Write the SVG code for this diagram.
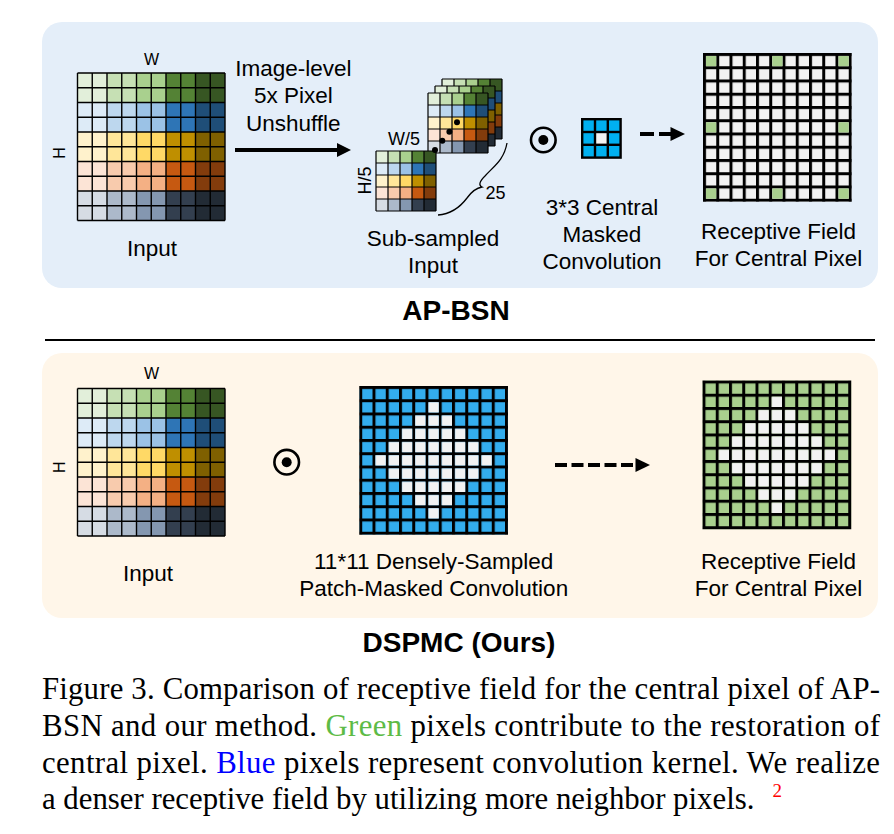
<svg xmlns="http://www.w3.org/2000/svg" xmlns:xlink="http://www.w3.org/1999/xlink" width="894" height="834" viewBox="0 0 894 834">
<style>
.t{font-family:"Liberation Sans",Arial,sans-serif;font-size:22.5px;fill:#000;text-anchor:middle}
.s{font-family:"Liberation Sans",Arial,sans-serif;font-size:18px;fill:#000;text-anchor:middle}
.wh{font-family:"Liberation Sans",Arial,sans-serif;font-size:16px;fill:#000;text-anchor:middle}
.b{font-family:"Liberation Sans",Arial,sans-serif;font-size:28px;font-weight:bold;fill:#000;text-anchor:middle}
.cap{font-family:"Liberation Serif","Times New Roman",serif;font-size:30.8px;fill:#000}
.gl{fill:none;stroke:#000;stroke-width:1.4}
.gls{fill:none;stroke:#000;stroke-width:1.2}
.ar{stroke:#000;stroke-width:4;fill:none}
</style>
<defs>
<pattern id="pGray" patternUnits="userSpaceOnUse" x="0" y="0" width="13.25" height="13.25"><rect x="3" y="3" width="10.25" height="10.25" fill="#F2F2F2"/></pattern>
<pattern id="pGreen" patternUnits="userSpaceOnUse" x="0" y="0" width="13.25" height="13.25"><rect x="3" y="3" width="10.25" height="10.25" fill="#A9D08E"/></pattern>
<pattern id="pBlue" patternUnits="userSpaceOnUse" x="0" y="0" width="13.25" height="13.25"><rect x="3" y="3" width="10.25" height="10.25" fill="#33ADEE"/></pattern>
<g id="inGrid">
<rect x="0" y="0" width="29.5" height="29.5" fill="#E2EFDA"/><rect x="29.5" y="0" width="29.5" height="29.5" fill="#C6E0B4"/><rect x="59" y="0" width="29.5" height="29.5" fill="#A9D08E"/><rect x="88.5" y="0" width="29.5" height="29.5" fill="#548235"/><rect x="118" y="0" width="29.5" height="29.5" fill="#375623"/>
<rect x="0" y="29.5" width="29.5" height="29.5" fill="#DDEBF7"/><rect x="29.5" y="29.5" width="29.5" height="29.5" fill="#BDD7EE"/><rect x="59" y="29.5" width="29.5" height="29.5" fill="#9BC2E6"/><rect x="88.5" y="29.5" width="29.5" height="29.5" fill="#2E75B6"/><rect x="118" y="29.5" width="29.5" height="29.5" fill="#1F4E78"/>
<rect x="0" y="59" width="29.5" height="29.5" fill="#FFF2CC"/><rect x="29.5" y="59" width="29.5" height="29.5" fill="#FFE699"/><rect x="59" y="59" width="29.5" height="29.5" fill="#FFD966"/><rect x="88.5" y="59" width="29.5" height="29.5" fill="#BF8F00"/><rect x="118" y="59" width="29.5" height="29.5" fill="#7F6000"/>
<rect x="0" y="88.5" width="29.5" height="29.5" fill="#FCE4D6"/><rect x="29.5" y="88.5" width="29.5" height="29.5" fill="#F8CBAD"/><rect x="59" y="88.5" width="29.5" height="29.5" fill="#F4B084"/><rect x="88.5" y="88.5" width="29.5" height="29.5" fill="#C65911"/><rect x="118" y="88.5" width="29.5" height="29.5" fill="#833C0C"/>
<rect x="0" y="118" width="29.5" height="29.5" fill="#D6DCE4"/><rect x="29.5" y="118" width="29.5" height="29.5" fill="#ACB9CA"/><rect x="59" y="118" width="29.5" height="29.5" fill="#8497B0"/><rect x="88.5" y="118" width="29.5" height="29.5" fill="#333F4F"/><rect x="118" y="118" width="29.5" height="29.5" fill="#222B35"/>
<path class="gl" d="M0,0V147.5M14.75,0V147.5M29.5,0V147.5M44.25,0V147.5M59,0V147.5M73.75,0V147.5M88.5,0V147.5M103.25,0V147.5M118,0V147.5M132.75,0V147.5M147.5,0V147.5M0,0H147.5M0,14.75H147.5M0,29.5H147.5M0,44.25H147.5M0,59H147.5M0,73.75H147.5M0,88.5H147.5M0,103.25H147.5M0,118H147.5M0,132.75H147.5M0,147.5H147.5"/>
</g>
<g id="subGrid">
<rect x="0" y="0" width="12" height="12" fill="#E2EFDA"/><rect x="12" y="0" width="12" height="12" fill="#C6E0B4"/><rect x="24" y="0" width="12" height="12" fill="#A9D08E"/><rect x="36" y="0" width="12" height="12" fill="#548235"/><rect x="48" y="0" width="12" height="12" fill="#375623"/>
<rect x="0" y="12" width="12" height="12" fill="#DDEBF7"/><rect x="12" y="12" width="12" height="12" fill="#BDD7EE"/><rect x="24" y="12" width="12" height="12" fill="#9BC2E6"/><rect x="36" y="12" width="12" height="12" fill="#2E75B6"/><rect x="48" y="12" width="12" height="12" fill="#1F4E78"/>
<rect x="0" y="24" width="12" height="12" fill="#FFF2CC"/><rect x="12" y="24" width="12" height="12" fill="#FFE699"/><rect x="24" y="24" width="12" height="12" fill="#FFD966"/><rect x="36" y="24" width="12" height="12" fill="#BF8F00"/><rect x="48" y="24" width="12" height="12" fill="#7F6000"/>
<rect x="0" y="36" width="12" height="12" fill="#FCE4D6"/><rect x="12" y="36" width="12" height="12" fill="#F8CBAD"/><rect x="24" y="36" width="12" height="12" fill="#F4B084"/><rect x="36" y="36" width="12" height="12" fill="#C65911"/><rect x="48" y="36" width="12" height="12" fill="#833C0C"/>
<rect x="0" y="48" width="12" height="12" fill="#D6DCE4"/><rect x="12" y="48" width="12" height="12" fill="#ACB9CA"/><rect x="24" y="48" width="12" height="12" fill="#8497B0"/><rect x="36" y="48" width="12" height="12" fill="#333F4F"/><rect x="48" y="48" width="12" height="12" fill="#222B35"/>
<path class="gls" d="M0,0V60M12,0V60M24,0V60M36,0V60M48,0V60M60,0V60M0,0H60M0,12H60M0,24H60M0,36H60M0,48H60M0,60H60"/>
</g>
<polygon id="diamond" points="67.75,14.75 81,14.75 81,28 94.25,28 94.25,41.25 107.5,41.25 107.5,54.5 120.75,54.5 120.75,67.75 134,67.75 134,81 120.75,81 120.75,94.25 107.5,94.25 107.5,107.5 94.25,107.5 94.25,120.75 81,120.75 81,134 67.75,134 67.75,120.75 54.5,120.75 54.5,107.5 41.25,107.5 41.25,94.25 28,94.25 28,81 14.75,81 14.75,67.75 28,67.75 28,54.5 41.25,54.5 41.25,41.25 54.5,41.25 54.5,28 67.75,28"/>
</defs>

<g id="panels">
<rect x="42" y="22" width="836" height="266" rx="20" fill="#E4EEF9"/>
<rect x="42" y="353" width="836" height="265" rx="20" fill="#FFF6E9"/>
<line x1="45" y1="340" x2="875" y2="340" stroke="#000" stroke-width="2"/>
</g>

<!-- TOP: AP-BSN -->
<g id="top-input">
<use xlink:href="#inGrid" href="#inGrid" transform="translate(77.5,73)"/>
<text class="wh" x="151.5" y="65">W</text>
<text class="wh" transform="translate(64.7,153) rotate(-90)">H</text>
<text class="t" x="152" y="256">Input</text>
</g>

<g id="unshuffle-label">
<text class="t" x="293.3" y="76">Image-level</text>
<text class="t" x="293.3" y="103.3">5x Pixel</text>
<text class="t" x="293.3" y="130.7">Unshuffle</text>
</g>

<g id="subsampled">
<use xlink:href="#subGrid" href="#subGrid" transform="translate(442,79)"/>
<use xlink:href="#subGrid" href="#subGrid" transform="translate(435,86)"/>
<use xlink:href="#subGrid" href="#subGrid" transform="translate(428,93)"/>
<use xlink:href="#subGrid" href="#subGrid" transform="translate(376,151)"/>
<circle cx="435" cy="150" r="3"/>
<circle cx="442.3" cy="140.8" r="3"/>
<circle cx="449.4" cy="131.7" r="3"/>
<circle cx="457" cy="122.3" r="3"/>
<path d="M438,215 C452,214 461,206 467,198 C472,191 476,188 482,187 C478,185 480,181 485,176 C494,166 504,160 507,143" fill="none" stroke="#000" stroke-width="1.3"/>
<text class="s" x="404" y="145">W/5</text>
<text class="s" transform="translate(370.5,180.5) rotate(-90)">H/5</text>
<text class="s" x="495.5" y="199.3">25</text>
<text class="t" x="433" y="246">Sub-sampled</text>
<text class="t" x="433" y="273">Input</text>
</g>

<g id="top-odot">
<circle cx="543.3" cy="140" r="12.3" fill="none" stroke="#000" stroke-width="2.6"/>
<circle cx="543.3" cy="140" r="5"/>
</g>

<g id="kernel3">
<rect x="581" y="118" width="40.8" height="40.8" fill="#000"/>
<rect x="583.4" y="120.4" width="10.4" height="10.4" fill="#00B0F0"/><rect x="596.2" y="120.4" width="10.4" height="10.4" fill="#00B0F0"/><rect x="609" y="120.4" width="10.4" height="10.4" fill="#00B0F0"/>
<rect x="583.4" y="133.2" width="10.4" height="10.4" fill="#00B0F0"/><rect x="596.2" y="133.2" width="10.4" height="10.4" fill="#F2F2F2"/><rect x="609" y="133.2" width="10.4" height="10.4" fill="#00B0F0"/>
<rect x="583.4" y="146" width="10.4" height="10.4" fill="#00B0F0"/><rect x="596.2" y="146" width="10.4" height="10.4" fill="#00B0F0"/><rect x="609" y="146" width="10.4" height="10.4" fill="#00B0F0"/>
<text class="t" x="602" y="215">3*3 Central</text>
<text class="t" x="602" y="242">Masked</text>
<text class="t" x="602" y="269">Convolution</text>
</g>

<g id="top-rf" transform="translate(703,53)">
<rect x="0" y="0" width="148.75" height="148.75" fill="#000"/>
<rect x="0" y="0" width="148.75" height="148.75" fill="url(#pGray)"/>
<rect x="3" y="3" width="10.25" height="10.25" fill="#A9D08E"/><rect x="69.25" y="3" width="10.25" height="10.25" fill="#A9D08E"/><rect x="135.5" y="3" width="10.25" height="10.25" fill="#A9D08E"/>
<rect x="3" y="69.25" width="10.25" height="10.25" fill="#A9D08E"/><rect x="135.5" y="69.25" width="10.25" height="10.25" fill="#A9D08E"/>
<rect x="3" y="135.5" width="10.25" height="10.25" fill="#A9D08E"/><rect x="69.25" y="135.5" width="10.25" height="10.25" fill="#A9D08E"/><rect x="135.5" y="135.5" width="10.25" height="10.25" fill="#A9D08E"/>
</g>
<g id="top-rf-label">
<text class="t" x="778.5" y="239.3">Receptive Field</text>
<text class="t" x="778.5" y="265.5">For Central Pixel</text>
</g>

<text id="title-apbsn" class="b" x="456" y="320">AP-BSN</text>

<!-- BOTTOM: DSPMC -->
<g id="bottom-input">
<use xlink:href="#inGrid" href="#inGrid" transform="translate(77.5,388.5)"/>
<text class="wh" x="151.5" y="379.3">W</text>
<text class="wh" transform="translate(64.7,467.3) rotate(-90)">H</text>
<text class="t" x="148" y="581">Input</text>
</g>

<g id="bottom-odot">
<circle cx="286.7" cy="462.2" r="12.3" fill="none" stroke="#000" stroke-width="2.6"/>
<circle cx="286.7" cy="462.2" r="5"/>
</g>

<g id="kernel11">
<g transform="translate(359.25,386)">
<rect x="0" y="0" width="148.75" height="148.75" fill="#000"/>
<rect x="0" y="0" width="148.75" height="148.75" fill="url(#pBlue)"/>
<use xlink:href="#diamond" href="#diamond" fill="url(#pGray)"/>
</g>
<text class="t" x="433.7" y="569.3">11*11 Densely-Sampled</text>
<text class="t" x="433.7" y="596">Patch-Masked Convolution</text>
</g>

<g id="bottom-rf">
<g transform="translate(702.5,380.5)">
<rect x="0" y="0" width="148.75" height="148.75" fill="#000"/>
<rect x="0" y="0" width="148.75" height="148.75" fill="url(#pGreen)"/>
<use xlink:href="#diamond" href="#diamond" fill="url(#pGray)"/>
</g>
<text class="t" x="778.5" y="569.3">Receptive Field</text>
<text class="t" x="778.5" y="596">For Central Pixel</text>
</g>

<text id="title-dspmc" class="b" x="459" y="651.7">DSPMC (Ours)</text>

<g id="connectors">
<line class="ar" x1="235" y1="150" x2="338" y2="150"/>
<polygon points="351,150 337,143 337,157" fill="#000"/>
<line class="ar" x1="640" y1="134" x2="672" y2="134" stroke-dasharray="14 5"/>
<polygon points="685,134 670.5,127 670.5,141" fill="#000"/>
<line class="ar" x1="555" y1="465" x2="637" y2="465" stroke-dasharray="12 4.5"/>
<polygon points="650,465 635.5,458 635.5,472" fill="#000"/>
</g>

<g id="caption">
<text class="cap" x="42" y="699" textLength="838" lengthAdjust="spacing">Figure 3. Comparison of receptive field for the central pixel of AP-</text>
<text class="cap" x="42" y="736" textLength="838" lengthAdjust="spacing">BSN and our method. <tspan fill="#5DBB46">Green</tspan> pixels contribute to the restoration of</text>
<text class="cap" x="42" y="772.5" textLength="838" lengthAdjust="spacing">central pixel. <tspan fill="#0000FF">Blue</tspan> pixels represent convolution kernel. We realize</text>
<text class="cap" x="42" y="809">a denser receptive field by utilizing more neighbor pixels.<tspan dx="18" dy="-12" font-size="19" fill="#FF0000">2</tspan></text>
</g>
</svg>
